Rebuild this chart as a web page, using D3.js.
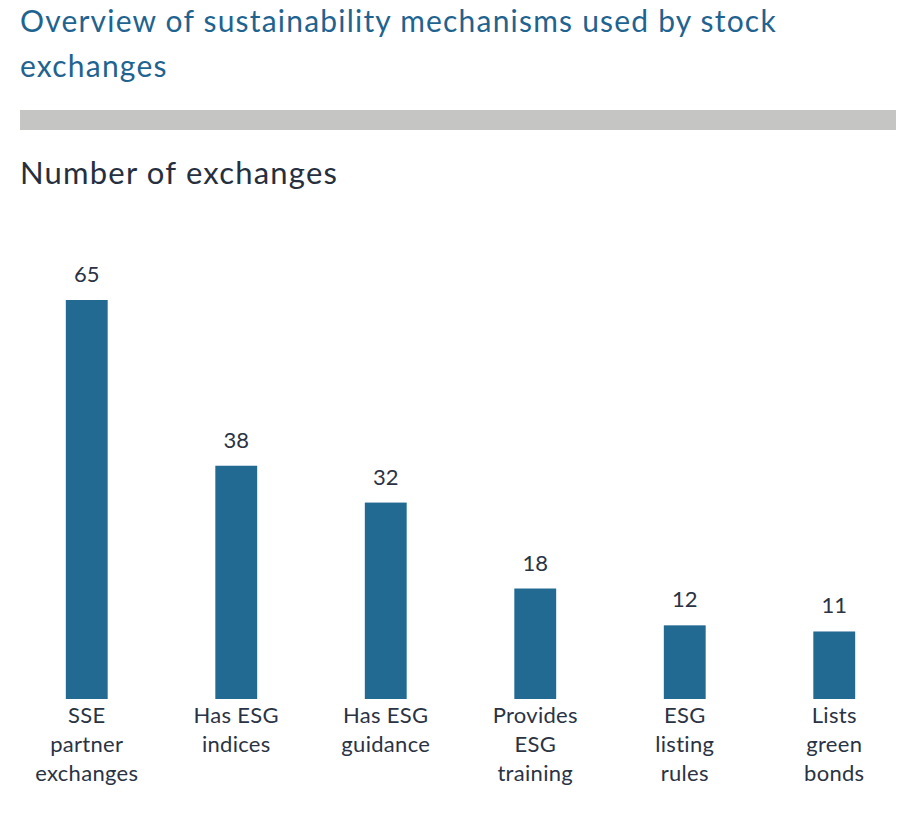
<!DOCTYPE html>
<html>
<head>
<meta charset="utf-8">
<script src="https://cdn.jsdelivr.net/npm/d3@7"></script>
<style>
    body { margin: 0; background: #fff; }
    text { font-family: Lato, "Open Sans", sans-serif; }
</style>
</head>
<body>
<div id="chart"></div>
<script>
// chart data
const titleLines = ["Overview of sustainability mechanisms used by stock", "exchanges"];
const subtitle = "Number of exchanges";
const categories = [
    ["SSE", "partner", "exchanges"],
    ["Has ESG", "indices"],
    ["Has ESG", "guidance"],
    ["Provides", "ESG", "training"],
    ["ESG", "listing", "rules"],
    ["Lists", "green", "bonds"]
];
const values = [65, 38, 32, 18, 12, 11];

const width = 900, height = 838;
const baseY = 699, topY = 300;

const svg = d3.select("#chart")
    .append("svg")
    .attr("width", width)
    .attr("height", height);

// title block
svg.append("g")
    .selectAll("text")
    .data(titleLines)
    .enter()
    .append("text")
    .attr("x", 20)
    .attr("y", (d, i) => 32 + i * 45)
    .attr("font-size", 30)
    .attr("letter-spacing", 1.2)
    .attr("fill", "#1f6390")
    .text(d => d);

svg.append("rect")
    .attr("x", 20)
    .attr("y", 110)
    .attr("width", 876)
    .attr("height", 20)
    .attr("fill", "#c5c5c3");

svg.append("text")
    .attr("x", 20)
    .attr("y", 184)
    .attr("font-size", 31)
    .attr("letter-spacing", 1.2)
    .attr("fill", "#262f3e")
    .text(subtitle);

// scales
const x = d3.scaleBand()
    .domain(d3.range(categories.length))
    .range([12, 909])
    .paddingInner(0.72)
    .paddingOuter(0.36);

const y = d3.scaleLinear()
    .domain([0, d3.max(values)])
    .range([baseY, topY]);

// bars
svg.selectAll(".bar")
    .data(values)
    .enter()
    .append("rect")
    .attr("class", "bar")
    .attr("x", (d, i) => x(i))
    .attr("y", d => y(d))
    .attr("width", x.bandwidth())
    .attr("height", d => baseY - y(d))
    .attr("fill", "#236a93");

// value labels
svg.selectAll(".val")
    .data(values)
    .enter()
    .append("text")
    .attr("class", "val")
    .attr("x", (d, i) => x(i) + x.bandwidth() / 2)
    .attr("y", d => y(d) - 18)
    .attr("text-anchor", "middle")
    .attr("font-size", 22)
    .attr("fill", "#2a3344")
    .text(d => d);

// category labels, one tspan per line
const cat = svg.selectAll(".cat")
    .data(categories)
    .enter()
    .append("text")
    .attr("class", "cat")
    .attr("text-anchor", "middle")
    .attr("font-size", 22)
    .attr("letter-spacing", 0.3)
    .attr("fill", "#2a3344");

cat.selectAll("tspan")
    .data((d, i) => d.map(line => ({line, i})))
    .enter()
    .append("tspan")
    .attr("x", d => x(d.i) + x.bandwidth() / 2)
    .attr("y", (d, j) => 723 + j * 29)
    .text(d => d.line);
</script>
</body>
</html>
